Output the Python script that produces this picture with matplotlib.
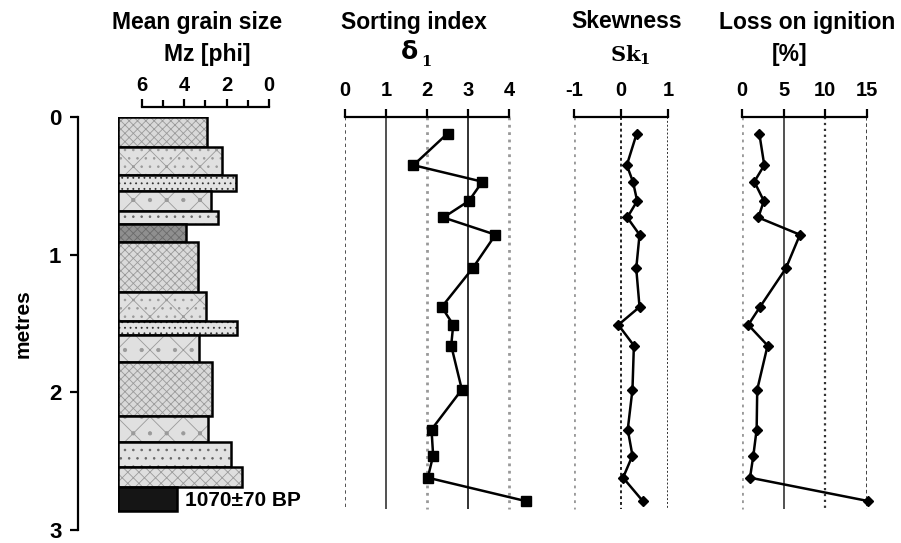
import numpy as np
import matplotlib
matplotlib.use('Agg')
import matplotlib.pyplot as plt

plt.rcParams['font.family'] = ['Liberation Sans', 'DejaVu Sans']
plt.rcParams['font.weight'] = 'bold'
plt.rcParams['hatch.linewidth'] = 0.6
plt.rcParams['axes.unicode_minus'] = False

# lithology column (depth in metres, mean grain size in phi)
layer_top = [0.00, 0.22, 0.42, 0.54, 0.68, 0.78, 0.91, 1.27, 1.48, 1.58, 1.78, 2.17, 2.36, 2.54, 2.69]
layer_base = [0.22, 0.42, 0.54, 0.68, 0.78, 0.91, 1.27, 1.48, 1.58, 1.78, 2.17, 2.36, 2.54, 2.69, 2.86]
layer_mz = [2.93, 2.22, 1.56, 2.74, 2.41, 3.92, 3.35, 2.98, 1.51, 3.31, 2.69, 2.88, 1.80, 1.28, 4.35]
layer_fill = ['#d9d9d9', '#e0e0e0', '#e3e3e3', '#e0e0e0', '#e2e2e2', '#8f8f8f', '#dadada',
              '#e0e0e0', '#e3e3e3', '#e0e0e0', '#d9d9d9', '#e0e0e0', '#e2e2e2', '#dedede', '#151515']
layer_hatch = ['xxxx', 'x..', '...', 'x.', '..', 'xxxx', 'xxxx', 'x..', '...', 'x.', 'xxxx', 'x.', '..', 'xxx', '']

# sample depths and measured values
sample_depth = [0.12, 0.35, 0.47, 0.61, 0.73, 0.855, 1.10, 1.38, 1.51, 1.66, 1.98, 2.27, 2.46, 2.62, 2.79]
sorting = [2.50, 1.67, 3.35, 3.02, 2.40, 3.67, 3.11, 2.36, 2.64, 2.59, 2.85, 2.11, 2.15, 2.02, 4.41]
skewness = [0.33, 0.12, 0.25, 0.34, 0.13, 0.39, 0.32, 0.39, -0.06, 0.27, 0.24, 0.14, 0.24, 0.04, 0.46]
loi = [2.05, 2.65, 1.45, 2.6, 1.93, 6.95, 5.25, 2.13, 0.72, 3.05, 1.8, 1.73, 1.33, 0.93, 15.2]

W, H = 901, 543
fig = plt.figure(figsize=(W / 100, H / 100), dpi=100)
TS = 16.5  # title size

def rect(x0, x1):
    return [x0 / W, 1 - 530 / H, (x1 - x0) / W, 413 / H]

def strip(ax):
    for s in ['left', 'right', 'bottom']:
        ax.spines[s].set_visible(False)
    ax.set_ylim(3, 0)
    ax.set_yticks([])
    ax.xaxis.set_ticks_position('top')
    ax.xaxis.set_label_position('top')
    ax.tick_params(axis='x', direction='out', length=6, width=1.6, labelsize=14.5, pad=6)
    ax.spines['top'].set_linewidth(1.6)
    ax.patch.set_alpha(0)

# depth axis
ax0 = fig.add_axes(rect(78, 100))
for s in ['top', 'right', 'bottom']:
    ax0.spines[s].set_visible(False)
ax0.set_ylim(3, 0)
ax0.set_xticks([])
ax0.set_yticks([0, 1, 2, 3])
ax0.tick_params(axis='y', length=6, width=1.6, labelsize=16, pad=6)
ax0.spines['left'].set_linewidth(1.6)
ax0.set_ylabel('metres', fontsize=15, fontweight='bold', labelpad=12)
ax0.patch.set_alpha(0)

# mean grain size column
col_base = 7.13
ax1 = fig.add_axes(rect(118, 269))
strip(ax1)
ax1.set_xlim(col_base, 0)
ax1.spines['top'].set_bounds(6, 0)
ax1.spines['top'].set_position(('outward', 7))
ax1.set_xticks([6, 4, 2, 0])
ax1.set_xticks([5, 3, 1], minor=True)
ax1.tick_params(axis='x', which='minor', direction='out', length=5, width=1.6)
ax1.tick_params(axis='x', pad=3)
for t, b, mz, fc, h in zip(layer_top, layer_base, layer_mz, layer_fill, layer_hatch):
    hc = '#9a9a9a' if fc != '#8f8f8f' else '#6a6a6a'
    if h == '...':
        hc = '#333333'
    elif h == '..':
        hc = '#666666'
    ax1.barh(t, col_base - mz, left=mz, height=b - t, align='edge',
             color=fc, hatch=h, edgecolor=hc, linewidth=0)
    ax1.barh(t, col_base - mz, left=mz, height=b - t, align='edge',
             fill=False, edgecolor='black', linewidth=1.8)
ax1.text(3.95, 2.785, '1070±70 BP', fontsize=15, fontweight='bold', ha='left', va='center')
fig.text(197 / W, 1 - 22 / H, 'Mean grain size', fontsize=TS, fontweight='bold', ha='center', va='center')
fig.text(207 / W, 1 - 55 / H, 'Mz [phi]', fontsize=TS, fontweight='bold', ha='center', va='center')

# sorting index
ax2 = fig.add_axes(rect(345, 345 + 4.5 * 41))
strip(ax2)
ax2.set_xlim(0, 4.5)
ax2.spines['top'].set_bounds(0, 4)
ax2.set_xticks([0, 1, 2, 3, 4])
grid_styles = [('#333333', (0, (2, 2)), 1.2), ('#333333', '-', 1.2), ('#999999', ':', 2.0),
               ('#222222', '-', 1.3), ('#999999', ':', 2.0)]
for x, (c, ls, lw) in zip([0, 1, 2, 3, 4], grid_styles):
    ax2.vlines(x, 0, 2.85, colors=c, linestyles=ls, linewidth=lw)
ax2.plot(sorting, sample_depth, color='black', lw=1.8, marker='s', ms=6.5, clip_on=False)
fig.text(414 / W, 1 - 22 / H, 'Sorting index', fontsize=TS, fontweight='bold', ha='center', va='center')
fig.text(410 / W, 1 - 52 / H, 'δ', fontsize=18, fontweight='bold', ha='center', va='center',
         family='DejaVu Sans')
fig.text(421 / W, 1 - 62 / H, '1', fontsize=10.5, ha='left', va='center', family='DejaVu Serif')

# skewness
ax3 = fig.add_axes(rect(574, 668.3))
strip(ax3)
ax3.set_xlim(-1, 1)
ax3.set_xticks([-1, 0, 1])
for x, (c, ls, lw) in zip([-1, 0, 1], [('#999999', ':', 2.0), ('#222222', (0, (1.5, 1.5)), 1.4),
                                       ('#333333', (0, (1, 1)), 1.4)]):
    ax3.vlines(x, 0, 2.85, colors=c, linestyles=ls, linewidth=lw)
ax3.plot(skewness, sample_depth, color='black', lw=1.8, marker='D', ms=5.5, clip_on=False)
fig.text(627 / W, 1 - 22 / H, 'Skewness', fontsize=TS, fontweight='bold', ha='center', va='center')
fig.text(630 / W, 1 - 55 / H, r'$\mathbf{Sk}_\mathbf{1}$', fontsize=15, ha='center', va='center',
         math_fontfamily='dejavuserif')

# loss on ignition
ax4 = fig.add_axes(rect(742.3, 866.7))
strip(ax4)
ax4.set_xlim(0, 15)
ax4.set_xticks([0, 5, 10, 15])
for x, (c, ls, lw) in zip([0, 5, 10, 15], [('#999999', ':', 2.0), ('#333333', '-', 1.2),
                                           ('#333333', ':', 1.6), ('#333333', (0, (2, 1.5)), 1.3)]):
    ax4.vlines(x, 0, 2.85, colors=c, linestyles=ls, linewidth=lw)
ax4.plot(loi, sample_depth, color='black', lw=1.8, marker='D', ms=5.5, clip_on=False)
fig.text(807 / W, 1 - 22 / H, 'Loss on ignition', fontsize=TS, fontweight='bold', ha='center', va='center')
fig.text(790 / W, 1 - 55 / H, '[%]', fontsize=TS, fontweight='bold', ha='center', va='center')

fig.savefig('out.png', dpi=100)
